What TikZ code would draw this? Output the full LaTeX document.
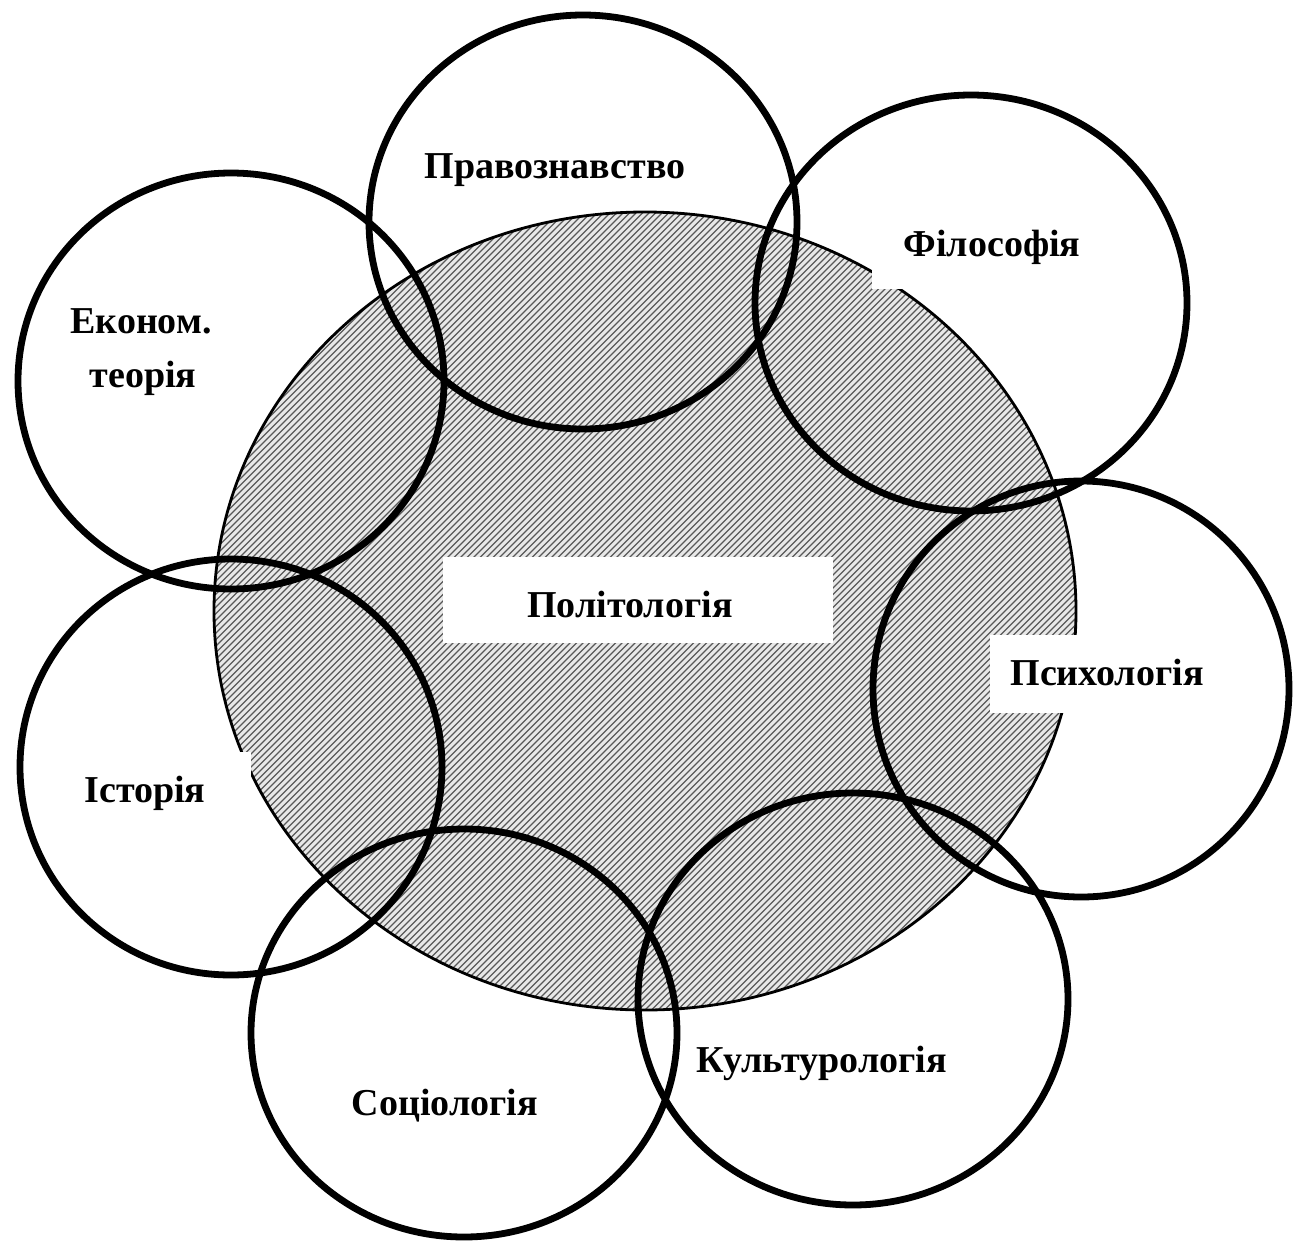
\documentclass[tikz,border=0pt]{standalone}
\usepackage{fontspec}
\setmainfont{Liberation Serif}
\begin{document}
\begin{tikzpicture}[x=0.5pt,y=-0.5pt,
  ring/.style={line width=3.4pt, draw=black},
  lab/.style={font=\fontsize{19}{23}\selectfont\bfseries, anchor=base, inner sep=0pt},
  whitebox/.style={fill=white, draw=none},
  hatch/.style={black!65, line width=0.6pt}]
\useasboundingbox (0,0) rectangle (1295,1248);
\fill[white] (0,0) rectangle (1295,1248);
% central hatched ellipse
\begin{scope}
  \clip (645,611) ellipse [x radius=431, y radius=399];
  \fill[gray!18] (200,200) rectangle (1100,1020);
  \foreach \c in {420,426.5,...,2100} \draw[hatch] (\c-1248,1248) -- (\c,0);
\end{scope}
\draw[line width=1.4pt] (645,611) ellipse [x radius=431, y radius=399];
% white label backgrounds
\fill[whitebox] (443,557) rectangle (833,643);
\fill[whitebox] (990,635) rectangle (1215,713);
\fill[whitebox] (872,205) rectangle (1110,289);
\fill[whitebox] (60,752) rectangle (251,825);
% surrounding circles
\draw[ring] (583,222) ellipse [x radius=214, y radius=207];
\draw[ring] (971,303) ellipse [x radius=216, y radius=208];
\draw[ring] (231,381) ellipse [x radius=213, y radius=208];
\draw[ring] (1081,689) ellipse [x radius=208, y radius=208];
\draw[ring] (231,767) ellipse [x radius=211, y radius=208];
\draw[ring] (464,1033) ellipse [x radius=213, y radius=204];
\draw[ring] (853,999) ellipse [x radius=215, y radius=206];
% labels
\node[lab] (polit) at (630,617) {Політологія};
\node[lab] (pravo) at (555,178) {Правознавство};
\node[lab] (filos) at (992,256) {Філософія};
\node[lab] (ekon1) at (141,333) {Економ.};
\node[lab] (ekon2) at (143,387) {теорія};
\node[lab] (psych) at (1107,685) {Психологія};
\node[lab] (istor) at (145,802) {Історія};
\node[lab] (sotsi) at (445,1115) {Соціологія};
\node[lab] (kult) at (822,1072) {Культурологія};
\end{tikzpicture}
\end{document}
